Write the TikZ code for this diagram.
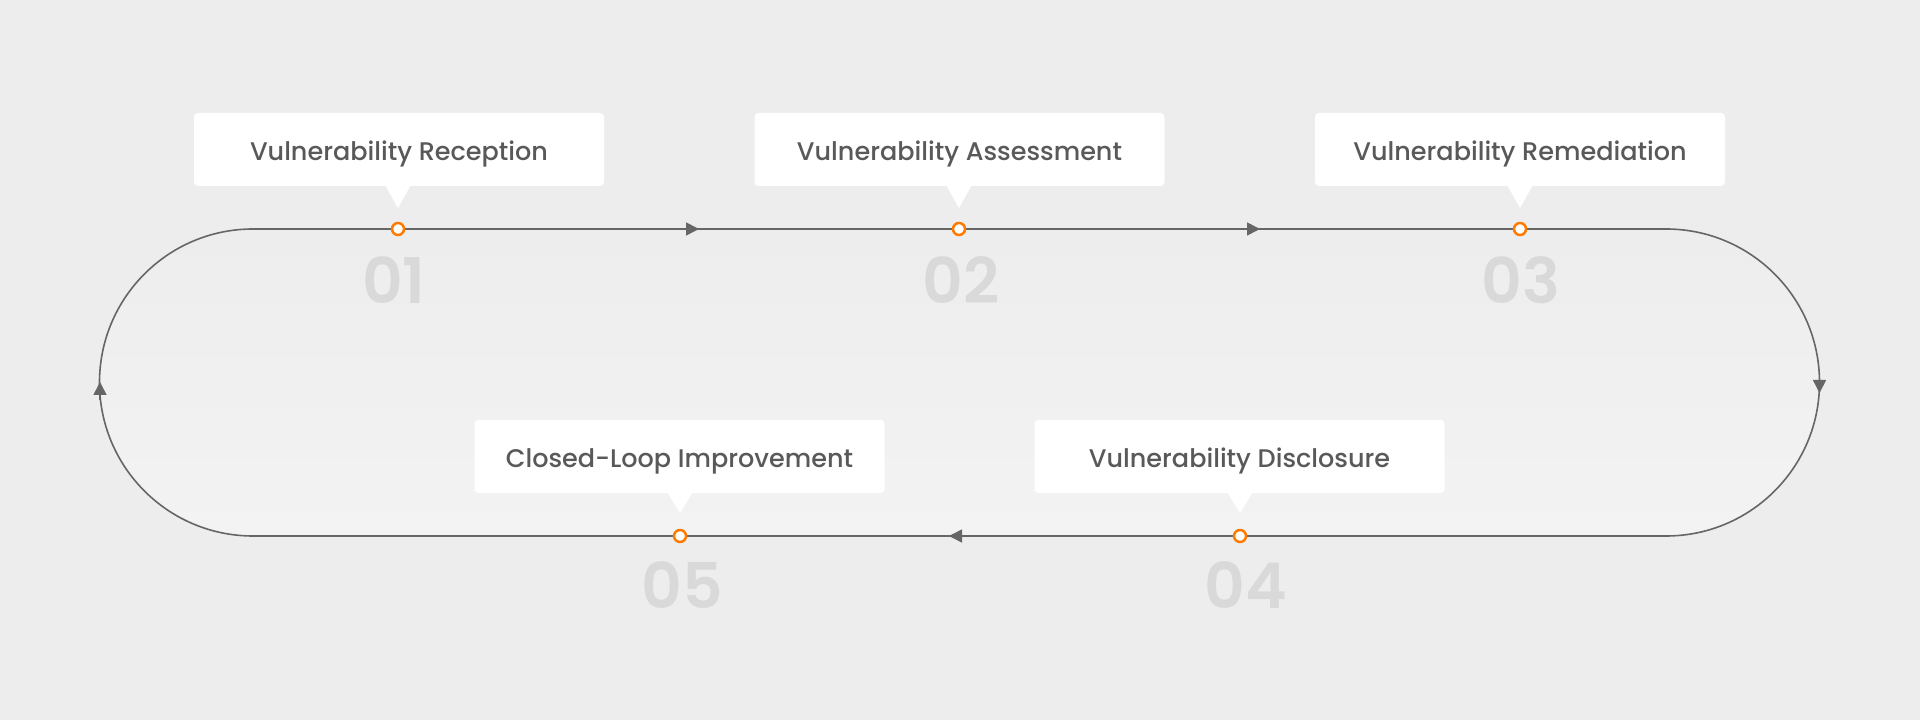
\documentclass[tikz,border=0pt]{standalone}
\usepackage{fontspec}
\setmainfont{Poppins}[UprightFont=* Medium, BoldFont=* SemiBold]
\usetikzlibrary{arrows.meta}
\definecolor{bgc}{HTML}{EDEDED}
\definecolor{pillc}{HTML}{F3F3F3}
\definecolor{linec}{HTML}{666666}
\definecolor{orangec}{HTML}{FF7A00}
\definecolor{textc}{HTML}{595959}
\definecolor{numc}{HTML}{D9D9D9}
\tikzset{
  loop/.style={draw=linec, line width=1.6pt},
  tip/.style={draw=linec, line width=1.6pt, -{Triangle[length=13pt,width=13pt]}},
  dot/.style={circle, draw=orangec, fill=white, line width=2.5pt, minimum size=12pt, inner sep=0pt},
  label/.style={fill=white, rounded corners=4pt, minimum width=410pt, minimum height=73pt, inner sep=0pt, text height=23pt, text depth=0pt, text=textc, font=\fontsize{25.5}{28}\selectfont},
  pointer/.style={fill=white, draw=none},
  num/.style={text=numc, font=\fontsize{63}{70}\selectfont\bfseries, inner sep=0pt}
}
\begin{document}
\begin{tikzpicture}[x=1pt,y=1pt]
\fill[bgc] (0,0) rectangle (1920,720);
\useasboundingbox (0,0) rectangle (1920,720);
% loop corners
\coordinate (TL) at (253,491);
\coordinate (TR) at (1666,491);
\coordinate (BR) at (1666,184);
\coordinate (BL) at (253,184);
% inner fill
\shade[top color=bgc, bottom color=pillc] (TL) -- (TR) arc[start angle=90, end angle=-90, radius=153.5pt] -- (BL) arc[start angle=270, end angle=90, radius=153.5pt] -- cycle;
\draw[loop] (TL) -- (TR) arc[start angle=90, end angle=-90, radius=153.5pt] -- (BL) arc[start angle=270, end angle=90, radius=153.5pt] -- cycle;
% step positions
\coordinate (p1) at (398,491);
\coordinate (p2) at (959,491);
\coordinate (p3) at (1520,491);
\coordinate (p4) at (1240,184);
\coordinate (p5) at (680,184);
% arrow tips along loop
\coordinate (a1) at (699,491);
\coordinate (a2) at (1260,491);
\coordinate (a3) at (1819.5,327);
\coordinate (a4) at (949,184);
\coordinate (a5) at (100,338);
\coordinate (b1) at (670,491);
\coordinate (b2) at (1230,491);
\coordinate (b3) at (1819.5,345);
\coordinate (b4) at (975,184);
\coordinate (b5) at (100,320);
\draw[tip] (b1) -- (a1);
\draw[tip] (b2) -- (a2);
\draw[tip] (b3) -- (a3);
\draw[tip] (b4) -- (a4);
\draw[tip] (b5) -- (a5);
% labels with pointers
\node[label] (l1) at (399,570.5) {Vulnerability Reception};
\node[label] (l2) at (959.5,570.5) {Vulnerability Assessment};
\node[label] (l3) at (1520,570.5) {Vulnerability Remediation};
\node[label] (l4) at (1239.5,263.5) {Vulnerability Disclosure};
\node[label] (l5) at (679.5,263.5) {Closed-Loop Improvement};
\fill[pointer] ([xshift=-12.5pt,yshift=0.5pt]l1.south -| p1) -- ([xshift=12.5pt,yshift=0.5pt]l1.south -| p1) -- ([yshift=21pt]p1) -- cycle;
\fill[pointer] ([xshift=-12.5pt,yshift=0.5pt]l2.south -| p2) -- ([xshift=12.5pt,yshift=0.5pt]l2.south -| p2) -- ([yshift=21pt]p2) -- cycle;
\fill[pointer] ([xshift=-12.5pt,yshift=0.5pt]l3.south -| p3) -- ([xshift=12.5pt,yshift=0.5pt]l3.south -| p3) -- ([yshift=21pt]p3) -- cycle;
\fill[pointer] ([xshift=-12.5pt,yshift=0.5pt]l4.south -| p4) -- ([xshift=12.5pt,yshift=0.5pt]l4.south -| p4) -- ([yshift=23pt]p4) -- cycle;
\fill[pointer] ([xshift=-12.5pt,yshift=0.5pt]l5.south -| p5) -- ([xshift=12.5pt,yshift=0.5pt]l5.south -| p5) -- ([yshift=23pt]p5) -- cycle;
% dots
\node[dot] (d1) at (p1) {};
\node[dot] (d2) at (p2) {};
\node[dot] (d3) at (p3) {};
\node[dot] (d4) at (p4) {};
\node[dot] (d5) at (p5) {};
% numbers
\node[num] (n1) at (394,440) {01};
\node[num] (n2) at (961,440) {02};
\node[num] (n3) at (1521,440) {03};
\node[num] (n4) at (1246,135) {04};
\node[num] (n5) at (682,135) {05};
\end{tikzpicture}
\end{document}
